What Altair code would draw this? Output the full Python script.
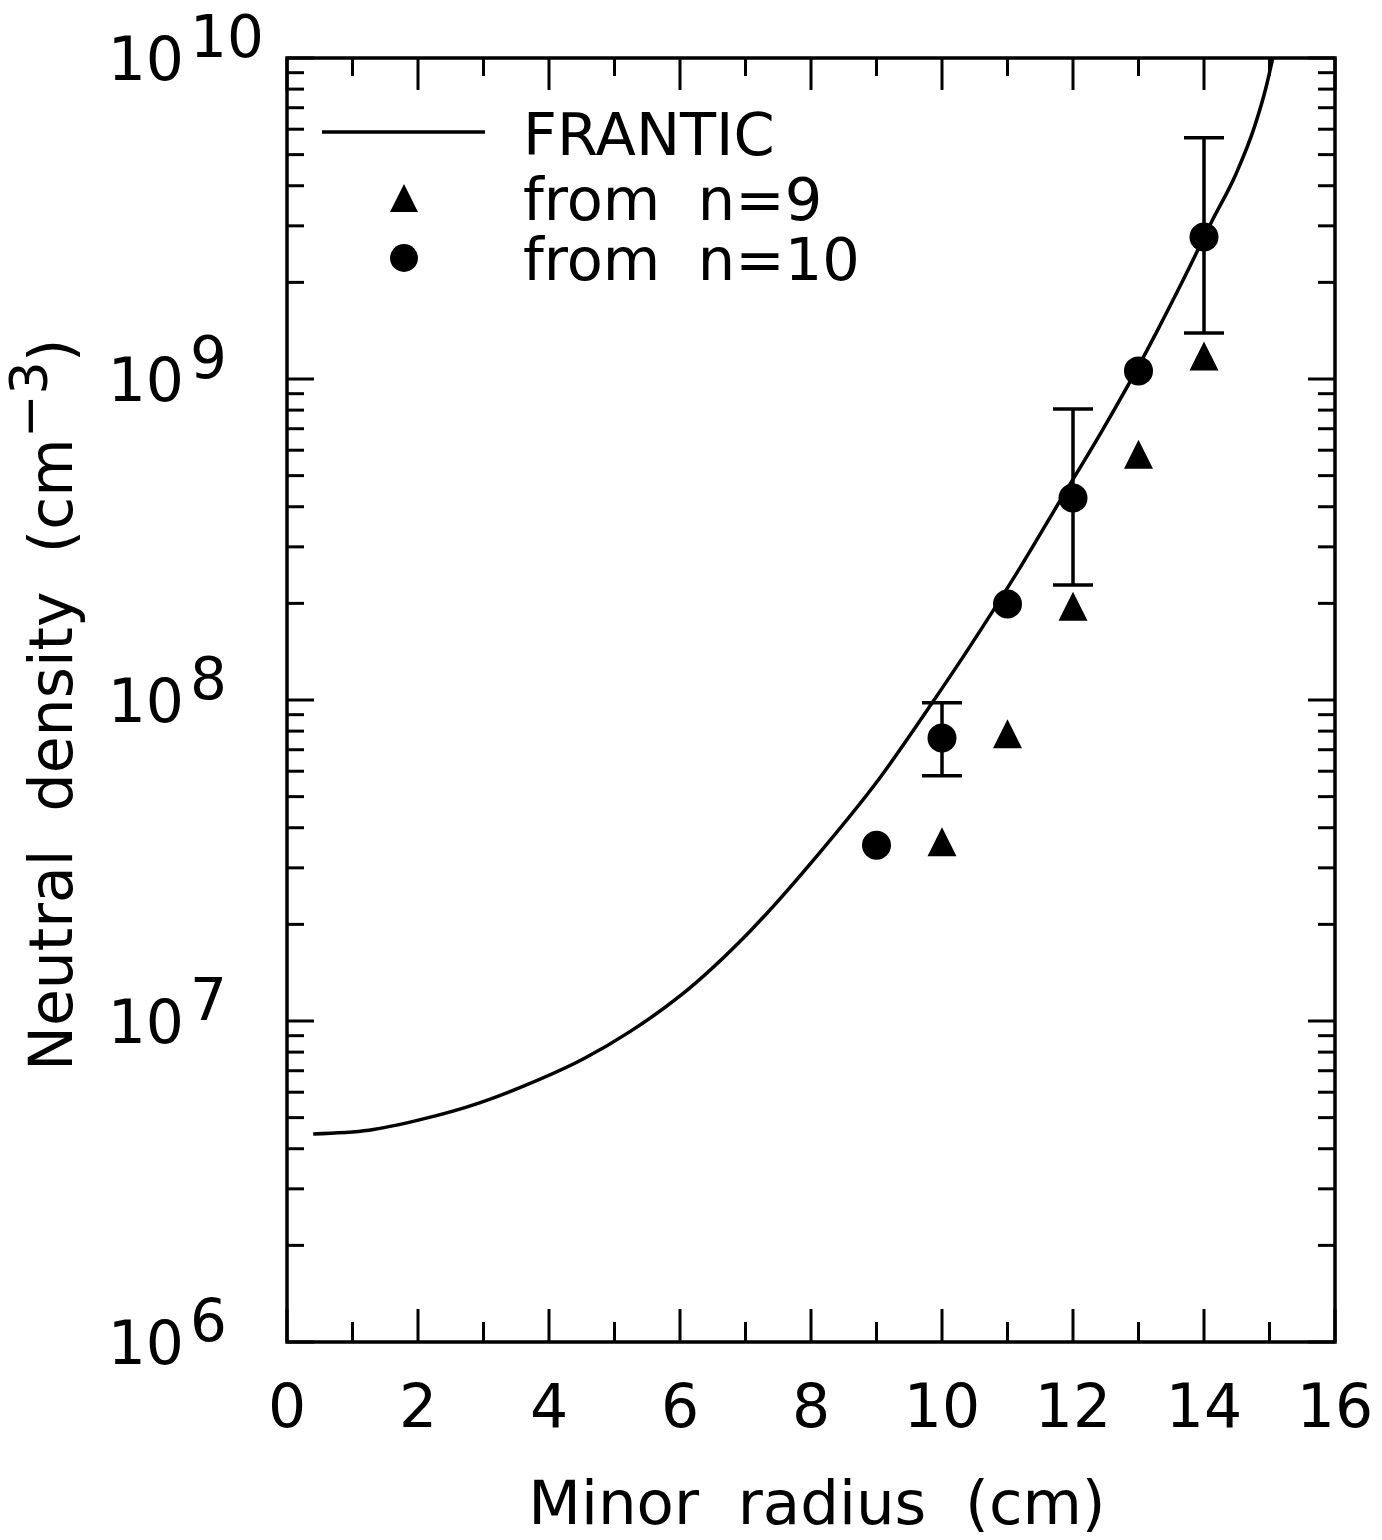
import altair as alt
import pandas as pd

# FRANTIC neutral density profile
frantic_r = [0.4, 1.25, 2.02, 2.94, 3.62, 4.55, 5.23, 6.0, 7.07, 8.14, 9.07, 9.84,
             10.38, 11.22, 11.81, 12.45, 12.97, 13.23, 13.74, 14.12, 14.49, 14.77,
             14.96, 15.05]
frantic_n = [4.45e6, 4.57e6, 4.92e6, 5.56e6, 6.28e6, 7.67e6, 9.25e6, 1.197e7, 1.905e7,
             3.36e7, 5.79e7, 9.73e7, 1.42e8, 2.64e8, 4.20e8, 6.93e8, 1.067e9, 1.343e9,
             2.15e9, 3.10e9, 4.36e9, 6.10e9, 8.30e9, 1.0e10]

# densities derived from the n=9 and n=10 lines
n9_r = [10, 11, 12, 13, 14]
n9_n = [3.62e7, 7.85e7, 1.96e8, 5.83e8, 1.18e9]
n10_r = [9, 10, 11, 12, 13, 14]
n10_n = [3.53e7, 7.62e7, 1.99e8, 4.26e8, 1.06e9, 2.77e9]

# error bars on the n=10 points
err_r = [10, 12, 14]
err_lo = [5.81e7, 2.28e8, 1.39e9]
err_hi = [9.8e7, 8.07e8, 5.64e9]

# axis ticks
x_major = [0, 2, 4, 6, 8, 10, 12, 14, 16]
x_minor = [1, 3, 5, 7, 9, 11, 13, 15]
y_major = [1e6, 1e7, 1e8, 1e9, 1e10]
y_exp = ["6", "7", "8", "9", "10"]
y_mult = [2, 3, 4, 5, 6, 7, 8, 9]
y_decades = [1e6, 1e7, 1e8, 1e9]
y_minor = [m * d for d in y_decades for m in y_mult]

W, H = 1048, 1284
FONT = "DejaVu Sans"
SW = 3.5
TRI = "M-1,1L0,-1L1,1Z"
SP = "\u00a0\u00a0"  # wide word gap that SVG keeps

xs = alt.Scale(domain=[0, 16], nice=False, zero=False)
ys = alt.Scale(type="log", domain=[1e6, 1e10], nice=False)


def X(field="r"):
    return alt.X(f"{field}:Q", scale=xs, axis=None)


def Y(field="n"):
    return alt.Y(f"{field}:Q", scale=ys, axis=None)


one = pd.DataFrame({"k": [0]})
frantic = pd.DataFrame({"r": frantic_r, "n": frantic_n})
n9 = pd.DataFrame({"r": n9_r, "n": n9_n})
n10 = pd.DataFrame({"r": n10_r, "n": n10_n})
err = pd.DataFrame({"r": err_r, "lo": err_lo, "hi": err_hi})
xmaj = pd.DataFrame({"r": x_major, "lab": [str(v) for v in x_major]})
xmin = pd.DataFrame({"r": x_minor})
ymaj = pd.DataFrame({"n": y_major, "e": y_exp})
ymin = pd.DataFrame({"n": y_minor})

layers = []

# model curve
layers.append(alt.Chart(frantic).mark_line(color="black", strokeWidth=SW, clip=True,
                                           opacity=1, interpolate="monotone").encode(
    x=X(), y=Y()))

# error bars
layers.append(alt.Chart(err).mark_rule(color="black", strokeWidth=SW, opacity=1).encode(
    x=X(), y=Y("lo"), y2="hi:Q"))
for f in ("lo", "hi"):
    layers.append(alt.Chart(err).mark_tick(color="black", orient="horizontal", size=40,
                                           thickness=SW, opacity=1).encode(x=X(), y=Y(f)))

# measured points
layers.append(alt.Chart(n9).mark_point(shape=TRI, filled=True, color="black", size=840,
                                       opacity=1).encode(x=X(), y=Y()))
layers.append(alt.Chart(n10).mark_point(shape="circle", filled=True, color="black", size=841,
                                        opacity=1).encode(x=X(), y=Y()))

# inward ticks on all four sides
for data, ln_b, ln_t in ((xmaj, 33, 32), (xmin, 20, 18)):
    layers.append(alt.Chart(data).mark_rule(color="black", strokeWidth=3, opacity=1).encode(
        x=X(), y=alt.value(H), y2=alt.value(H - ln_b)))
    layers.append(alt.Chart(data).mark_rule(color="black", strokeWidth=3, opacity=1).encode(
        x=X(), y=alt.value(0), y2=alt.value(ln_t)))
for data, ln in ((ymaj, 27), (ymin, 17)):
    layers.append(alt.Chart(data).mark_rule(color="black", strokeWidth=3, opacity=1).encode(
        y=Y(), x=alt.value(0), x2=alt.value(ln)))
    layers.append(alt.Chart(data).mark_rule(color="black", strokeWidth=3, opacity=1).encode(
        y=Y(), x=alt.value(W), x2=alt.value(W - ln)))

# tick labels
layers.append(alt.Chart(xmaj).mark_text(font=FONT, fontSize=60, align="center",
                                        baseline="alphabetic", color="black").encode(
    x=X(), y=alt.value(H + 85), text="lab:N"))
layers.append(alt.Chart(ymaj).mark_text(font=FONT, fontSize=60, align="right",
                                        baseline="alphabetic", dy=22, color="black",
                                        text="10").encode(y=Y(), x=alt.value(-103)))
layers.append(alt.Chart(ymaj).mark_text(font=FONT, fontSize=58, align="left",
                                        baseline="alphabetic", dy=-1, color="black").encode(
    y=Y(), x=alt.value(-97), text="e:N"))

# axis titles
layers.append(alt.Chart(one).mark_text(font=FONT, fontSize=61, align="center",
                                       baseline="alphabetic", color="black",
                                       text=f"Minor{SP}radius{SP}(cm)").encode(
    x=alt.value(530), y=alt.value(H + 182)))
ytitle = [(f"Neutral{SP}density{SP}(cm", 60, -215, 1013),
          ("\u22123", 52, -240, 380),
          (")", 60, -215, 304)]
for txt, fs, px, py in ytitle:
    layers.append(alt.Chart(one).mark_text(font=FONT, fontSize=fs, align="left",
                                           baseline="alphabetic", angle=270,
                                           color="black", text=txt).encode(
        x=alt.value(px), y=alt.value(py)))

# legend
layers.append(alt.Chart(one).mark_rule(color="black", strokeWidth=SW, opacity=1).encode(
    x=alt.value(35), x2=alt.value(198), y=alt.value(74)))
layers.append(alt.Chart(one).mark_point(shape=TRI, filled=True, color="black", size=780,
                                        opacity=1).encode(x=alt.value(117), y=alt.value(140)))
layers.append(alt.Chart(one).mark_point(shape="circle", filled=True, color="black", size=780,
                                        opacity=1).encode(x=alt.value(117), y=alt.value(200)))
for txt, py in (("FRANTIC", 97), (f"from{SP}n=9", 162), (f"from{SP}n=10", 222)):
    layers.append(alt.Chart(one).mark_text(font=FONT, fontSize=59, align="left",
                                           baseline="alphabetic", color="black",
                                           text=txt).encode(
        x=alt.value(236), y=alt.value(py)))

chart = alt.layer(*layers).properties(
    width=W, height=H,
    padding={"left": 287, "top": 58, "right": 47, "bottom": 198},
    autosize=alt.AutoSizeParams(type="none"),
    background="white",
).configure_view(stroke="black", strokeWidth=3.5)

chart.save("out.html", embed_options={"renderer": "svg", "actions": False})
